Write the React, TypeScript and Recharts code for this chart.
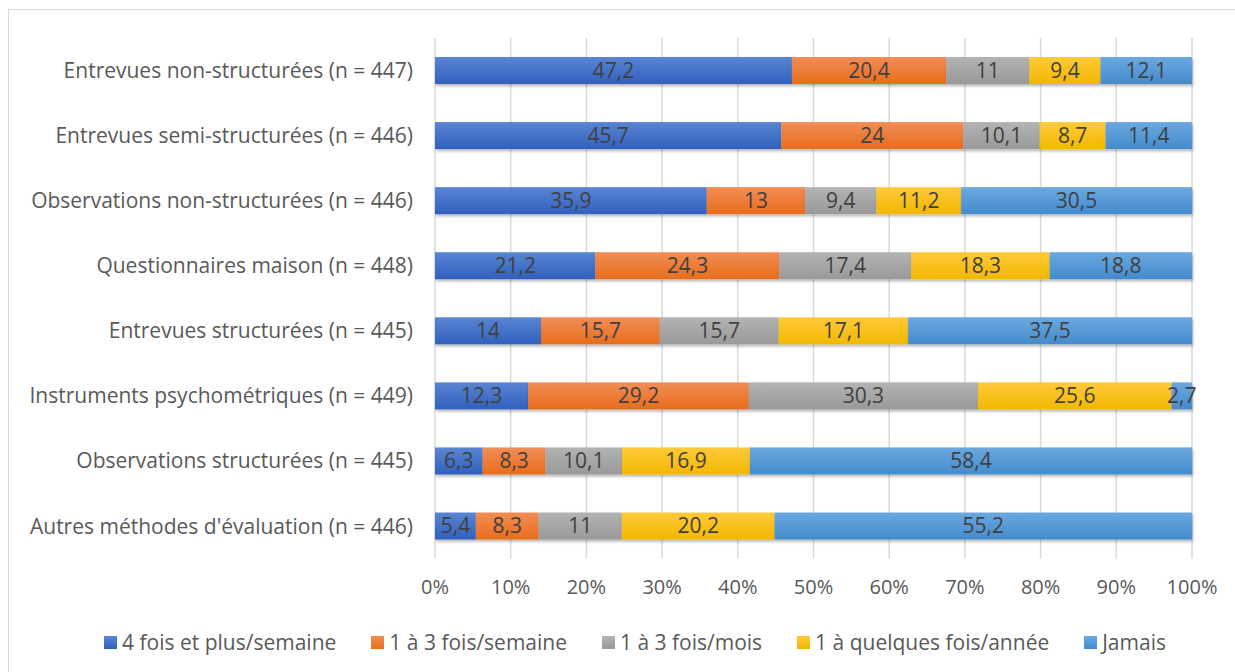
import React from "react";
import { BarChart, Bar, XAxis, YAxis, CartesianGrid, LabelList, Legend } from "recharts";

const categories = [
  "Entrevues non-structurées (n = 447)",
  "Entrevues semi-structurées (n = 446)",
  "Observations non-structurées (n = 446)",
  "Questionnaires maison (n = 448)",
  "Entrevues structurées (n = 445)",
  "Instruments psychométriques (n = 449)",
  "Observations structurées (n = 445)",
  "Autres méthodes d'évaluation (n = 446)",
];

const seriesNames = [
  "4 fois et plus/semaine",
  "1 à 3 fois/semaine",
  "1 à 3 fois/mois",
  "1 à quelques fois/année",
  "Jamais",
];

const s1 = [47.2, 45.7, 35.9, 21.2, 14, 12.3, 6.3, 5.4];
const s2 = [20.4, 24, 13, 24.3, 15.7, 29.2, 8.3, 8.3];
const s3 = [11, 10.1, 9.4, 17.4, 15.7, 30.3, 10.1, 11];
const s4 = [9.4, 8.7, 11.2, 18.3, 17.1, 25.6, 16.9, 20.2];
const s5 = [12.1, 11.4, 30.5, 18.8, 37.5, 2.7, 58.4, 55.2];

const xTicks = [0, 0.1, 0.2, 0.3, 0.4, 0.5, 0.6, 0.7, 0.8, 0.9, 1];

const seriesValues = [s1, s2, s3, s4, s5];
const keys = ["s1", "s2", "s3", "s4", "s5"];
const colorsTop = ["#5a85d3", "#f18d55", "#b3b3b3", "#ffca3a", "#6ba8df"];
const colorsBottom = ["#3060bd", "#e86d1c", "#999999", "#f2b700", "#448bcd"];
const legendColors = ["#4472C4", "#ED7D31", "#A5A5A5", "#FFC000", "#5B9BD5"];

const data = categories.map((name, i) => {
  const row: Record<string, any> = { name };
  keys.forEach((k, j) => {
    row[k] = seriesValues[j][i];
  });
  return row;
});

const FONT = "'Open Sans', sans-serif";

const fmt = (v: any) => String(v).replace(".", ",");

const makeShape = (idx: number) => (props: any) => {
  const { x, y, width, height } = props;
  if (width == null || height == null) return <g />;
  return (
    <rect
      x={x}
      y={y}
      width={Math.max(0, width)}
      height={height}
      fill={`url(#grad${idx})`}
      filter="url(#barShadow)"
    />
  );
};

const LegendContent = () => (
  <div
    style={{
      display: "flex",
      justifyContent: "center",
      alignItems: "center",
      fontFamily: FONT,
      fontSize: 21,
      color: "#595959",
      paddingLeft: 78,
      height: 40,
    }}
  >
    {seriesNames.map((n, i) => (
      <div key={n} style={{ display: "flex", alignItems: "center", marginRight: i < 4 ? 35 : 0 }}>
        <div
          style={{
            width: 13,
            height: 13,
            background: `linear-gradient(${colorsTop[i]}, ${colorsBottom[i]})`,
            marginRight: 5,
          }}
        />
        <span>{n}</span>
      </div>
    ))}
  </div>
);

export default function App() {
  return (
    <div style={{ position: "absolute", left: 0, top: 0, width: 1235, height: 672, background: "#fff" }}>
      <div
        style={{
          position: "absolute",
          left: 8,
          top: 9,
          width: 1240,
          height: 680,
          border: "1px solid #d9d9d9",
          boxSizing: "border-box",
        }}
      />
      <div style={{ position: "absolute", left: 0, top: 0 }}>
        <BarChart
          width={1235}
          height={672}
          data={data}
          layout="vertical"
          stackOffset="expand"
          margin={{ top: 38, right: 43, left: 0, bottom: 10 }}
        >
          <defs>
            {keys.map((k, i) => (
              <linearGradient key={k} id={`grad${i}`} x1="0" y1="0" x2="0" y2="1">
                <stop offset="0%" stopColor={colorsTop[i]} />
                <stop offset="100%" stopColor={colorsBottom[i]} />
              </linearGradient>
            ))}
            <filter id="barShadow" x="-5%" y="-20%" width="110%" height="160%">
              <feDropShadow dx="1" dy="2" stdDeviation="1.5" floodColor="#000" floodOpacity="0.3" />
            </filter>
          </defs>
          <CartesianGrid horizontal={false} stroke="#d9d9d9" strokeWidth={1.5} />
          <XAxis
            type="number"
            domain={[0, 1]}
            ticks={xTicks}
            tickFormatter={(v: number) => `${Math.round(v * 100)}%`}
            axisLine={false}
            tickLine={false}
            tickSize={0}
            tickMargin={21}
            height={63.4}
            tick={{ fill: "#595959", fontSize: 20, fontFamily: FONT }}
            interval={0}
          />
          <YAxis
            type="category"
            dataKey="name"
            width={435}
            axisLine={false}
            tickLine={false}
            tickSize={0}
            tickMargin={22}
            tick={{ fill: "#595959", fontSize: 21, fontFamily: FONT }}
            interval={0}
          />
          <Legend verticalAlign="bottom" height={40} content={<LegendContent />} />
          {keys.map((k, i) => (
            <Bar
              key={k}
              dataKey={k}
              name={seriesNames[i]}
              stackId="a"
              barSize={27}
              fill={legendColors[i]}
              shape={makeShape(i)}
              isAnimationActive={false}
            >
              <LabelList
                dataKey={k}
                position="center"
                formatter={fmt}
                style={{ fill: "#404040", fontSize: 21, fontFamily: FONT }}
              />
            </Bar>
          ))}
        </BarChart>
      </div>
    </div>
  );
}
